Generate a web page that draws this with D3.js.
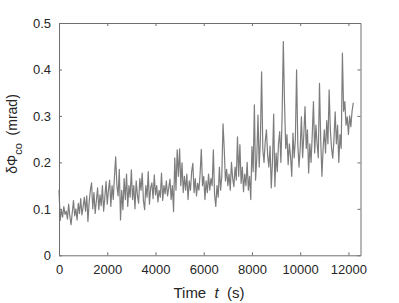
<!DOCTYPE html>
<html>
<head>
<meta charset="utf-8">
<script src="https://cdn.jsdelivr.net/npm/d3@7"></script>
<style>
  body { margin: 0; background: #fff; }
  text { font-family: "Liberation Sans", Arial, sans-serif; fill: #262626; }
</style>
</head>
<body>
<div id="chart"></div>
<script>
// sampling step of the trace, seconds
var step = 50;

// phase noise, mrad, one value every 50 s from t = 0
var phase = [
  0.141, 0.075, 0.098, 0.082, 0.105, 0.088, 0.095, 0.078, 0.110, 0.084, 0.066, 0.092, 0.118, 0.085, 0.100, 0.076, 0.112, 0.090, 0.122, 0.087,
  0.104, 0.125, 0.095, 0.128, 0.073, 0.115, 0.140, 0.156, 0.100, 0.135, 0.090, 0.118, 0.145, 0.098, 0.130, 0.107, 0.150, 0.095, 0.125, 0.159,
  0.110, 0.140, 0.162, 0.105, 0.150, 0.120, 0.170, 0.212, 0.150, 0.128, 0.185, 0.076, 0.140, 0.098, 0.165, 0.120, 0.175, 0.105, 0.150, 0.125,
  0.184, 0.120, 0.150, 0.100, 0.160, 0.130, 0.112, 0.165, 0.140, 0.177, 0.118, 0.098, 0.150, 0.125, 0.180, 0.110, 0.145, 0.156, 0.122, 0.173,
  0.130, 0.150, 0.115, 0.140, 0.125, 0.177, 0.118, 0.150, 0.132, 0.160, 0.128, 0.145, 0.164, 0.120, 0.150, 0.094, 0.210, 0.140, 0.227, 0.170,
  0.229, 0.150, 0.199, 0.135, 0.170, 0.140, 0.175, 0.120, 0.160, 0.140, 0.180, 0.198, 0.135, 0.165, 0.128, 0.155, 0.140, 0.175, 0.228, 0.150,
  0.170, 0.120, 0.160, 0.135, 0.175, 0.140, 0.165, 0.150, 0.227, 0.130, 0.105, 0.150, 0.125, 0.190, 0.140, 0.170, 0.283, 0.230, 0.160, 0.185,
  0.150, 0.175, 0.140, 0.200, 0.165, 0.148, 0.190, 0.162, 0.255, 0.170, 0.238, 0.155, 0.190, 0.137, 0.175, 0.150, 0.200, 0.140, 0.170, 0.120,
  0.234, 0.180, 0.324, 0.162, 0.210, 0.302, 0.190, 0.250, 0.395, 0.227, 0.200, 0.245, 0.270, 0.215, 0.190, 0.235, 0.145, 0.200, 0.304, 0.148,
  0.220, 0.180, 0.240, 0.266, 0.200, 0.298, 0.460, 0.328, 0.230, 0.260, 0.195, 0.240, 0.212, 0.170, 0.263, 0.210, 0.250, 0.399, 0.240, 0.190,
  0.230, 0.298, 0.210, 0.260, 0.320, 0.230, 0.270, 0.177, 0.240, 0.200, 0.260, 0.331, 0.220, 0.280, 0.240, 0.210, 0.370, 0.250, 0.170, 0.230,
  0.270, 0.220, 0.290, 0.240, 0.356, 0.270, 0.230, 0.209, 0.250, 0.309, 0.240, 0.280, 0.200, 0.260, 0.230, 0.435, 0.310, 0.331, 0.280, 0.298,
  0.260, 0.300, 0.277, 0.310, 0.328
];

var xTicks = [0, 2000, 4000, 6000, 8000, 10000, 12000];
var yTicks = [0, 0.1, 0.2, 0.3, 0.4, 0.5];

var width = 399, height = 303;
var padLeft = 59, padRight = 360.5, padTop = 23, padBottom = 255.3;

var svg = d3.select('#chart')
  .append('svg')
  .attr('width', width)
  .attr('height', height);

var x = d3.scaleLinear().domain([0, 12500]).range([padLeft, padRight]);
var y = d3.scaleLinear().domain([0, 0.5]).range([padBottom, padTop]);

var data = phase.map(function (v, i) {
  return { t: i * step, v: v };
});

// trace first, axes drawn over it
var line = d3.line()
  .x(function (d) { return x(d.t); })
  .y(function (d) { return y(d.v); });

svg.append('path')
  .datum(data)
  .attr('fill', 'none')
  .attr('stroke', '#7d7d7d')
  .attr('stroke-width', 1.2)
  .attr('stroke-linejoin', 'round')
  .attr('d', line);

var axisColor = '#6e6e6e';

// bottom and left axes with labels, ticks pointing inward
svg.append('g')
  .attr('transform', 'translate(0,' + padBottom + ')')
  .call(d3.axisBottom(x).tickValues(xTicks).tickFormat(d3.format('d'))
    .tickSizeInner(-3).tickSizeOuter(0).tickPadding(9));
svg.append('g')
  .attr('transform', 'translate(' + padLeft + ',0)')
  .call(d3.axisLeft(y).tickValues(yTicks).tickFormat(d3.format(''))
    .tickSizeInner(-3).tickSizeOuter(0).tickPadding(8));

// top and right edges of the box with matching ticks
svg.append('g')
  .attr('transform', 'translate(0,' + padTop + ')')
  .call(d3.axisTop(x).tickValues(xTicks).tickSizeInner(-3).tickSizeOuter(0).tickFormat(''));
svg.append('g')
  .attr('transform', 'translate(' + padRight + ',0)')
  .call(d3.axisRight(y).tickValues(yTicks).tickSizeInner(-3).tickSizeOuter(0).tickFormat(''));

svg.selectAll('.domain, .tick line').attr('stroke', axisColor);
svg.selectAll('.tick text')
  .style('font-size', '13px')
  .style('font-family', '"Liberation Sans", Arial, sans-serif')
  .attr('fill', '#262626');

// x label
var xl = svg.append('text')
  .attr('x', 209)
  .attr('y', 298)
  .attr('text-anchor', 'middle')
  .style('font-size', '15px')
  .attr('xml:space', 'preserve');
xl.append('tspan').text('Time  ');
xl.append('tspan').style('font-style', 'italic').text('t');
xl.append('tspan').text('  (s)');

// y label
var yl = svg.append('text')
  .attr('transform', 'translate(17,' + 134 + ') rotate(-90)')
  .attr('text-anchor', 'middle')
  .style('font-size', '14px')
  .attr('xml:space', 'preserve');
yl.append('tspan').text('δΦ');
yl.append('tspan').attr('dy', 5).style('font-size', '11px').text('co');
yl.append('tspan').attr('dy', -5).text('  (mrad)');
</script>
</body>
</html>
